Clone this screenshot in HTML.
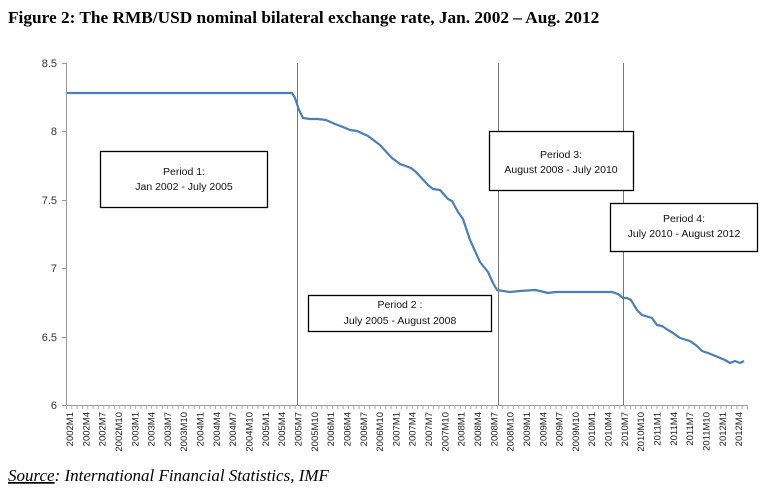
<!DOCTYPE html>
<html><head><meta charset="utf-8"><style>
body{margin:0;background:#fff;width:770px;height:488px;overflow:hidden}
</style></head><body>
<svg width="770" height="488" xmlns="http://www.w3.org/2000/svg" font-family="Liberation Sans, sans-serif">
<text x="8" y="23" font-family="Liberation Serif, serif" font-weight="bold" font-size="17.3">Figure 2: The RMB/USD nominal bilateral exchange rate, Jan. 2002 – Aug. 2012</text>
<g stroke="#999" stroke-width="1">
<line x1="66.5" y1="63" x2="66.5" y2="405"/>
<line x1="66" y1="405.5" x2="748" y2="405.5"/>
<line x1="62" y1="63.5" x2="66" y2="63.5"/><line x1="62" y1="131.5" x2="66" y2="131.5"/><line x1="62" y1="200.5" x2="66" y2="200.5"/><line x1="62" y1="268.5" x2="66" y2="268.5"/><line x1="62" y1="337.5" x2="66" y2="337.5"/><line x1="62" y1="405.5" x2="66" y2="405.5"/>
</g>
<g id="ticks" stroke="#aaa" stroke-width="1"></g>
<g font-size="11" text-anchor="end" fill="#333">
<text x="57" y="67">8.5</text><text x="57" y="135">8</text><text x="57" y="204">7.5</text><text x="57" y="272">7</text><text x="57" y="341">6.5</text><text x="57" y="409">6</text>
</g>
<g stroke="#777" stroke-width="1">
<line x1="297.5" y1="63" x2="297.5" y2="405"/><line x1="498.5" y1="63" x2="498.5" y2="405"/><line x1="623.5" y1="63" x2="623.5" y2="405"/>
</g>
<polyline fill="none" stroke="#4a7ebb" stroke-width="2.2" stroke-linejoin="round" points="67,93 292,93 295,98 299,110 303,118 310,119 318,119 326,120 335,124 343,127 350,130 357,131 368,136 380,145 392,158 400,164 411,168 416,172 428,185 433,189 440,190 448,199 452,201 458,212 463,219 470,240 480,262 488,272 493,283 497,290 503,291 510,292 520,291 535,290 540,291 548,293 555,292 563,292 600,292 612,292 618,294 623,298 627,298 631,300 637,310 642,315 652,318 657,325 662,326 668,330 673,333 680,338 690,341 697,346 702,351 708,353 713,355 725,360 730,363 735,361 740,363 744,361"/>
<g stroke="#000" stroke-width="1.3" fill="#fff">
<rect x="100.5" y="151.5" width="167" height="56"/>
<rect x="489.5" y="131.5" width="144" height="59"/>
<rect x="610.5" y="203.5" width="147" height="48"/>
<rect x="308.5" y="295.5" width="183" height="36"/>
</g>
<g font-size="10.5" text-anchor="middle" fill="#111">
<text x="184" y="175">Period 1:</text><text x="184" y="190">Jan 2002 - July 2005</text>
<text x="561" y="158">Period  3:</text><text x="561" y="173">August 2008 - July 2010</text>
<text x="684" y="222">Period  4:</text><text x="684" y="237">July 2010 - August 2012</text>
<text x="400" y="308">Period 2 :</text><text x="400" y="324">July 2005 - August 2008</text>
</g>
<g id="labels" font-size="9.5" fill="#222"></g>
<text x="8" y="481" font-family="Liberation Serif, serif" font-style="italic" font-size="17"><tspan text-decoration="underline">Source</tspan>: International Financial Statistics, IMF</text>
</svg>
<script>
var t=document.getElementById('ticks'),l=document.getElementById('labels'),ns='http://www.w3.org/2000/svg';
for(var i=0;i<=128;i++){var x=66.5+i*5.32;var e=document.createElementNS(ns,'line');e.setAttribute('x1',x);e.setAttribute('x2',x);e.setAttribute('y1',405);e.setAttribute('y2',409);t.appendChild(e);}
var ms=[1,4,7,10];
for(var k=0;k<42;k++){var y=2002+Math.floor(k/4),m=ms[k%4];var x=69.5+k*16.32+3.5;var e=document.createElementNS(ns,'text');e.setAttribute('transform','translate('+x+',412) rotate(-90)');e.setAttribute('text-anchor','end');e.textContent=y+'M'+m;l.appendChild(e);}
</script>
</body></html>
